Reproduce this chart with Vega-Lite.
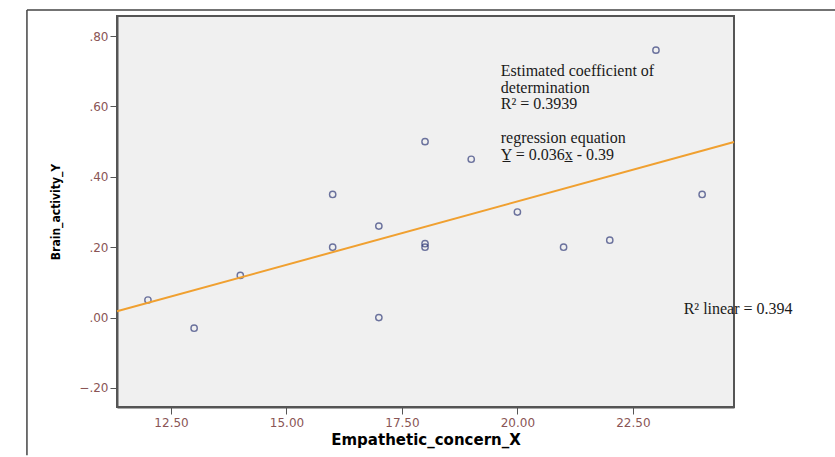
{
  "$schema": "https://vega.github.io/schema/vega-lite/v6.json",
  "autosize": {"type": "none"},
  "width": 617,
  "height": 391,
  "padding": {"left": 117, "top": 16, "right": 101, "bottom": 50},
  "background": "white",
  "config": {
    "view": {"fill": "#F0F0F0", "stroke": "#555555", "strokeWidth": 2},
    "axis": {"grid": false, "domainColor": "#555555", "domainWidth": 2, "tickColor": "#555555", "tickSize": 7, "labelColor": "#8a5555", "labelFont": "DejaVu Sans", "labelFontSize": 12, "titleFont": "Liberation Sans", "titleFontWeight": "bold", "titleColor": "#000000"}
  },
  "layer": [
    {
      "data": {"values": [
        {"x1": 9.38, "x2": 26.88, "y1": 0.874, "y2": 0.874},
        {"x1": 9.38, "x2": 9.38, "y1": 0.874, "y2": -0.391}
      ]},
      "mark": {"type": "rule", "color": "#444444", "strokeWidth": 1.5},
      "encoding": {
        "x": {"field": "x1", "type": "quantitative"},
        "x2": {"field": "x2"},
        "y": {"field": "y1", "type": "quantitative"},
        "y2": {"field": "y2"}
      }
    },
    {
      "data": {"values": [
        {"x": 12, "y": 0.05}, {"x": 13, "y": -0.03}, {"x": 14, "y": 0.12},
        {"x": 16, "y": 0.35}, {"x": 16, "y": 0.20}, {"x": 17, "y": 0.26},
        {"x": 17, "y": 0.00}, {"x": 18, "y": 0.50}, {"x": 18, "y": 0.21},
        {"x": 18, "y": 0.20}, {"x": 19, "y": 0.45}, {"x": 20, "y": 0.30},
        {"x": 21, "y": 0.20}, {"x": 22, "y": 0.22}, {"x": 23, "y": 0.76},
        {"x": 24, "y": 0.35}
      ]},
      "mark": {"type": "point", "shape": "circle", "filled": false, "stroke": "#333d7a", "strokeWidth": 1.4, "size": 40},
      "encoding": {
        "x": {"field": "x", "type": "quantitative", "scale": {"domain": [11.33, 24.69], "nice": false, "zero": false},
              "axis": {"values": [12.5, 15, 17.5, 20, 22.5], "format": ".2f", "title": "Empathetic_concern_X", "titleFont": "DejaVu Sans", "titleFontSize": 15, "titlePadding": 4, "labelPadding": 3}},
        "y": {"field": "y", "type": "quantitative", "scale": {"domain": [-0.254, 0.857], "nice": false, "zero": false},
              "axis": {"values": [-0.2, 0, 0.2, 0.4, 0.6, 0.8], "labelExpr": "replace(format(datum.value, '.2f'), '0.', '.')", "title": "Brain_activity_Y", "titleFont": "DejaVu Sans Condensed", "titleFontSize": 12, "titlePadding": 16}}
      }
    },
    {
      "data": {"values": [{"x": 11.33, "y": 0.0179}, {"x": 24.69, "y": 0.4988}]},
      "mark": {"type": "line", "color": "#f0a030", "strokeWidth": 2},
      "encoding": {
        "x": {"field": "x", "type": "quantitative"},
        "y": {"field": "y", "type": "quantitative"}
      }
    },
    {
      "data": {"values": [
        {"x": 19.64, "y": 0.686, "t": "Estimated coefficient of"},
        {"x": 19.64, "y": 0.639, "t": "determination"},
        {"x": 19.64, "y": 0.592, "t": "R² = 0.3939"},
        {"x": 19.64, "y": 0.496, "t": "regression equation"},
        {"x": 19.64, "y": 0.449, "t": "Y̲ = 0.036x̲ - 0.39"},
        {"x": 23.6, "y": 0.011, "t": "R² linear = 0.394"}
      ]},
      "mark": {"type": "text", "align": "left", "baseline": "alphabetic", "font": "Liberation Serif", "fontSize": 16, "color": "#1a1a1a"},
      "encoding": {
        "x": {"field": "x", "type": "quantitative"},
        "y": {"field": "y", "type": "quantitative"},
        "text": {"field": "t"}
      }
    }
  ]
}
